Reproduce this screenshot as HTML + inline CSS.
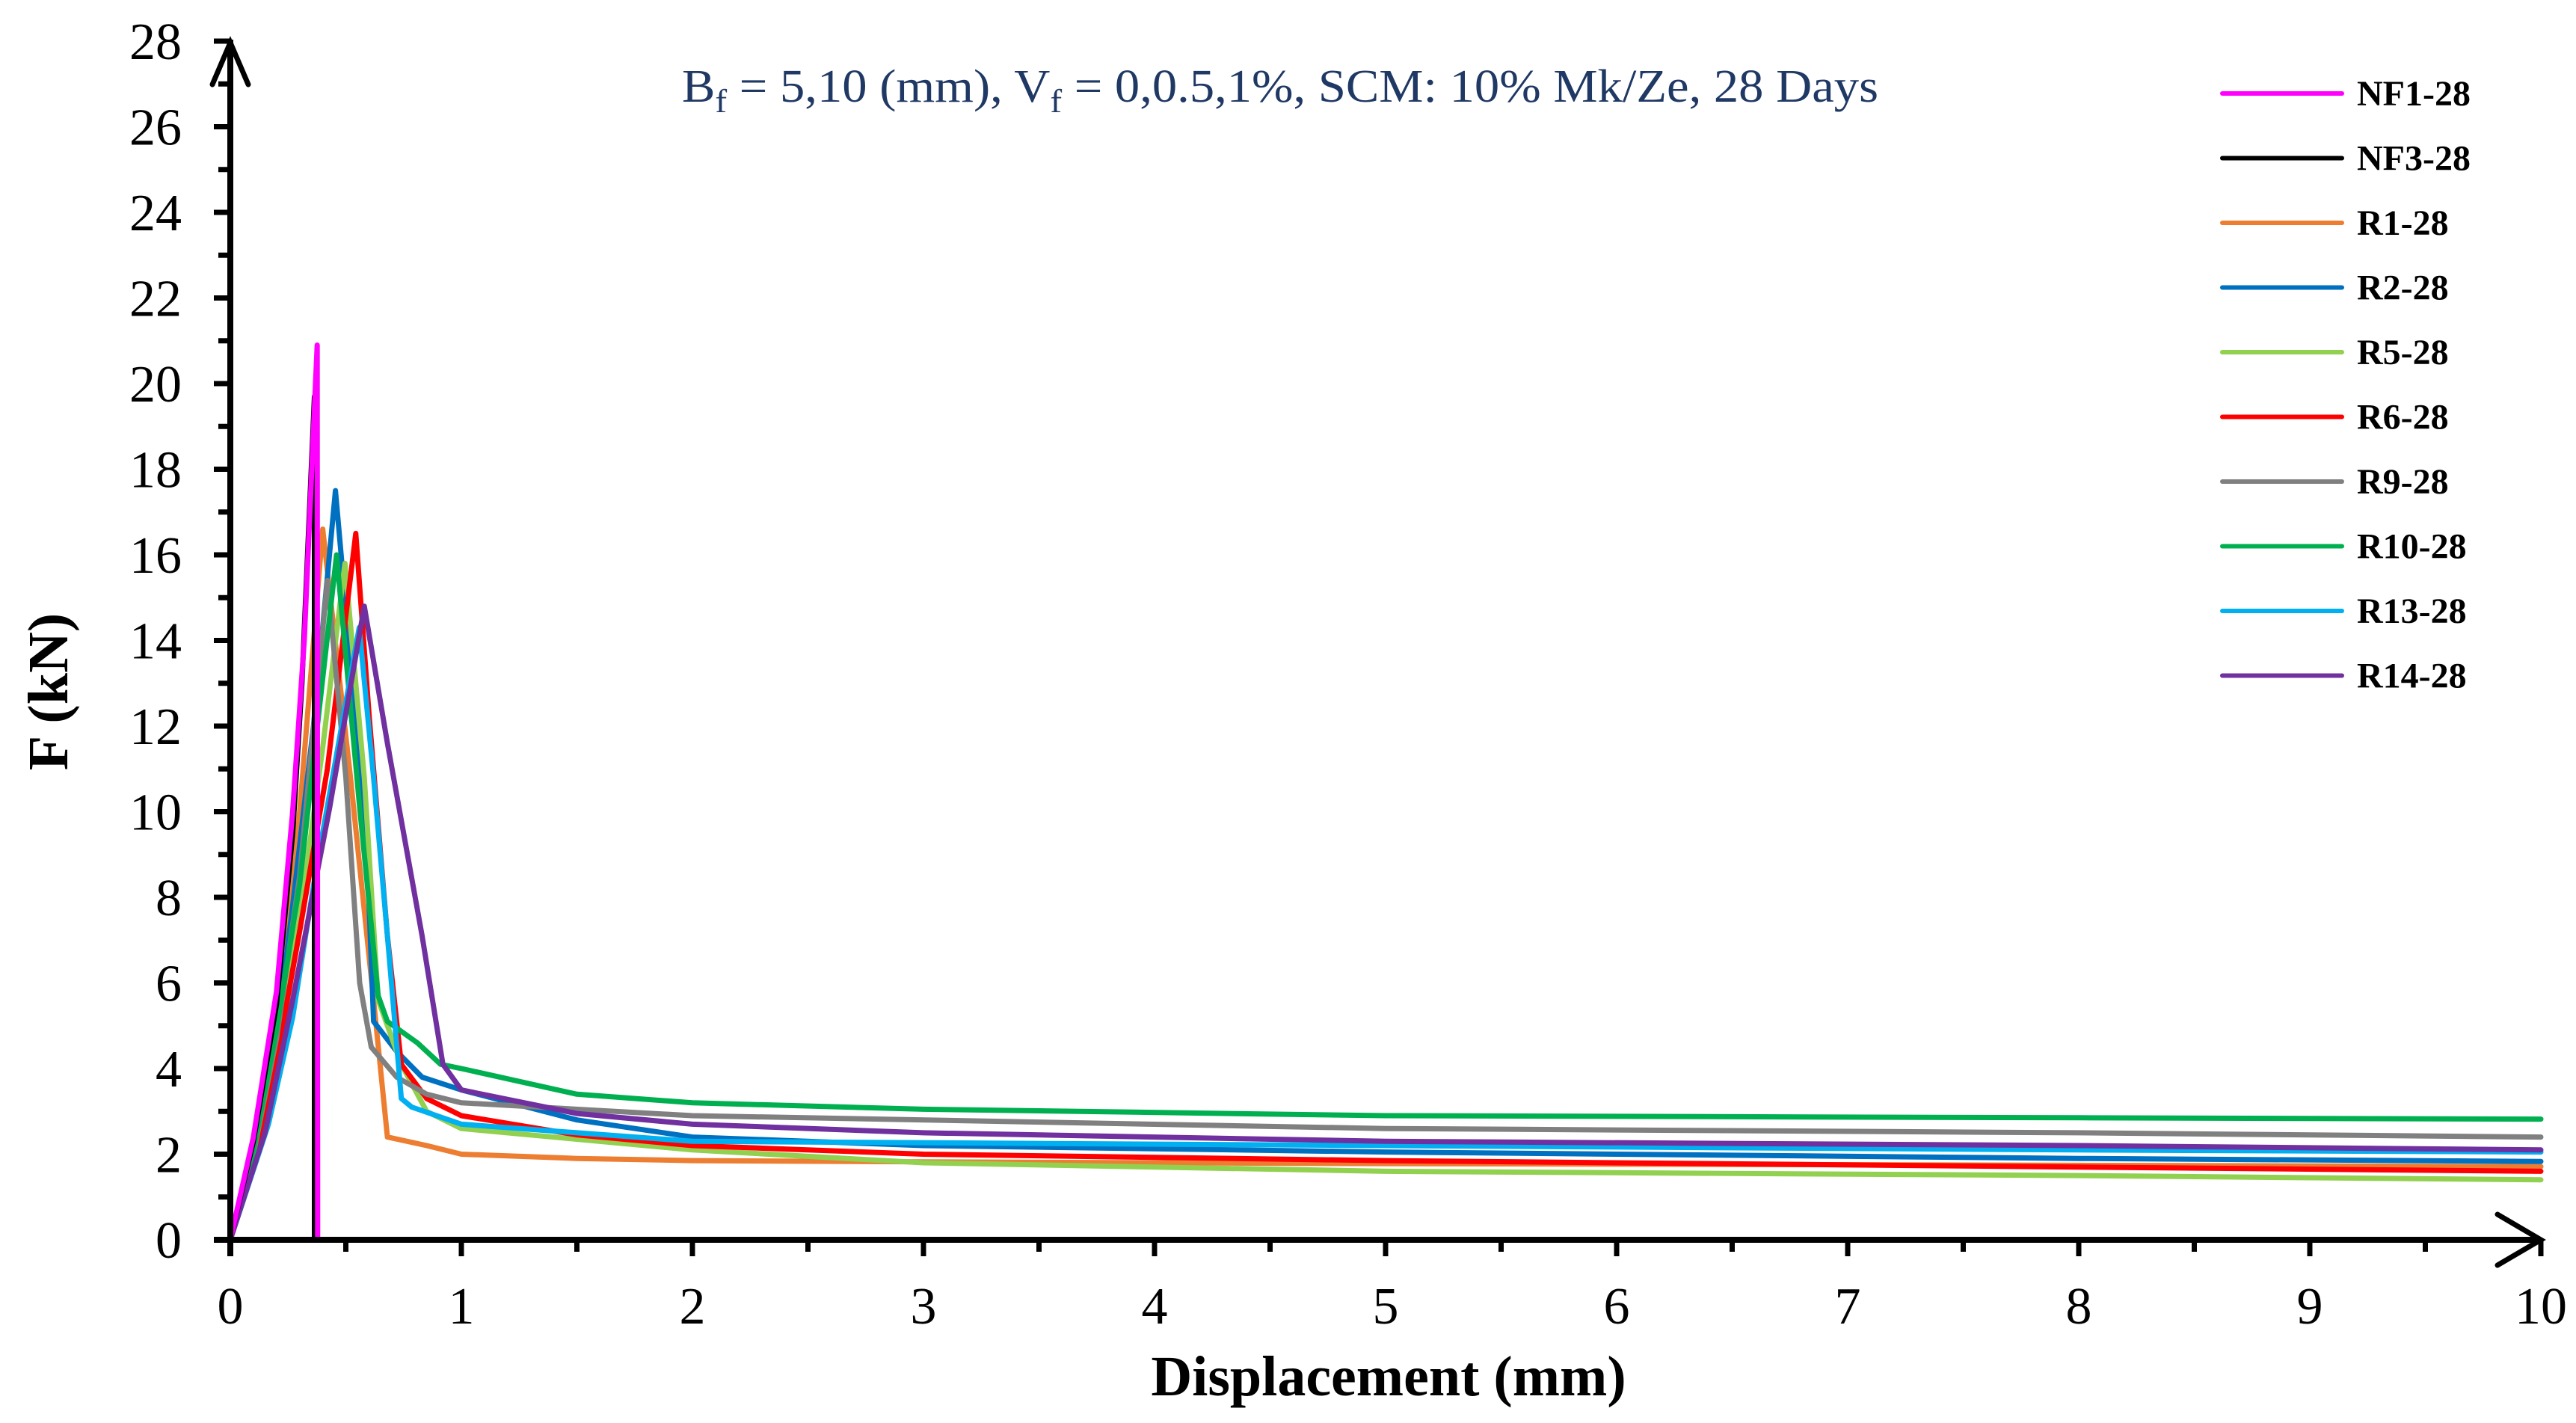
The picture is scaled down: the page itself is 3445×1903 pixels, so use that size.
<!DOCTYPE html>
<html><head><meta charset="utf-8"><style>
html,body{margin:0;padding:0;background:#fff;}
svg{display:block;}
text{font-family:"Liberation Serif","DejaVu Serif",serif;}
</style></head><body>
<svg id="chart" width="3445" height="1903" viewBox="0 0 3445 1903" xmlns="http://www.w3.org/2000/svg">
<g id="series"></g>
<g id="axes"></g>
<text x="912" y="136" font-size="62" fill="#1f3864" textLength="1600" lengthAdjust="spacingAndGlyphs">B<tspan font-size="44" dy="14">f</tspan><tspan dy="-14"> = 5,10 (mm), V</tspan><tspan font-size="44" dy="14">f</tspan><tspan dy="-14"> = 0,0.5,1%, SCM: 10% Mk/Ze, 28 Days</tspan></text>
<text x="1857" y="1866" font-size="76" font-weight="bold" text-anchor="middle">Displacement (mm)</text>
<text transform="translate(90,925) rotate(-90)" font-size="76" font-weight="bold" text-anchor="middle">F (kN)</text>
<g id="legend"></g>
</svg>
<script>
const xTicks = [0,1,2,3,4,5,6,7,8,9,10];
const yTicks = [0,2,4,6,8,10,12,14,16,18,20,22,24,26,28];
const seriesNames = ["NF1-28","NF3-28","R1-28","R2-28","R5-28","R6-28","R9-28","R10-28","R13-28","R14-28"];
const seriesColors = ["#ff00ff","#000000","#ed7d31","#0070c0","#92d050","#ff0000","#808080","#00b050","#00b0f0","#7030a0"];
const xNF1 = [0,0.1,0.2,0.27,0.32,0.376,0.378];
const yNF1 = [0,2.4,5.8,10,14,20.9,0];
const xNF3 = [0,0.1,0.2,0.27,0.31,0.364,0.364];
const yNF3 = [0,2.3,5.5,9.5,13,19.7,0];
const xR1 = [0,0.1,0.2,0.3,0.4,0.52,0.62,0.68,0.85,1.0,1.5,2,3,5,8,10];
const yR1 = [0,2.2,5.2,10,16.6,10.8,5.6,2.4,2.2,2.0,1.9,1.85,1.82,1.78,1.74,1.71];
const xR2 = [0,0.1,0.2,0.27,0.36,0.455,0.59,0.62,0.72,0.83,1.0,1.5,2,3,5,8,10];
const yR2 = [0,2.0,4.8,7.8,12,17.5,9.3,5.1,4.4,3.8,3.5,2.8,2.4,2.2,2.05,1.9,1.83];
const xR5 = [0,0.1,0.2,0.3,0.4,0.496,0.58,0.64,0.74,0.85,1.0,1.5,2,3,5,8,10];
const yR5 = [0,1.9,4.5,7.5,11.5,15.8,10.8,5.6,4.1,3.0,2.6,2.35,2.1,1.8,1.6,1.5,1.4];
const xR6 = [0,0.1,0.2,0.3,0.42,0.543,0.6,0.68,0.74,0.85,1.0,1.5,2,3,5,8,10];
const yR6 = [0,1.8,4.2,7.2,11.0,16.5,12.3,7.1,4.1,3.3,2.9,2.45,2.2,2.0,1.85,1.7,1.6];
const xR9 = [0,0.1,0.2,0.3,0.42,0.5,0.56,0.61,0.72,0.85,1.0,2,5,8,10];
const yR9 = [0,2.0,4.7,8.5,15.4,10.8,6.0,4.5,3.8,3.4,3.2,2.9,2.6,2.5,2.4];
const xR10 = [0,0.1,0.2,0.3,0.46,0.56,0.64,0.68,0.81,0.91,1.0,1.5,2,3,5,8,10];
const yR10 = [0,2.1,4.9,8.3,16.0,10.1,5.7,5.1,4.6,4.1,4.0,3.4,3.2,3.05,2.9,2.85,2.82];
const xR13 = [0,0.165,0.27,0.37,0.558,0.62,0.68,0.74,0.785,1.0,2,5,8,10];
const yR13 = [0,2.7,5.2,8.6,14.3,10.8,7.1,3.3,3.1,2.7,2.3,2.2,2.1,2.05];
const xR14 = [0,0.15,0.27,0.43,0.58,0.68,0.83,0.92,1.0,1.5,2,3,5,8,10];
const yR14 = [0,2.5,5.6,10.1,14.8,11.6,7.1,4.1,3.5,2.95,2.7,2.5,2.3,2.2,2.1];
const seriesX = [xNF1,xNF3,xR1,xR2,xR5,xR6,xR9,xR10,xR13,xR14];
const seriesY = [yNF1,yNF3,yR1,yR2,yR5,yR6,yR9,yR10,yR13,yR14];

const NS = "http://www.w3.org/2000/svg";
const X0 = 308, X1 = 3398, Y0 = 1658, Y1 = 55;
function sx(v){ return X0 + (X1 - X0) * v / 10; }
function sy(v){ return Y0 - (Y0 - Y1) * v / 28; }
function mk(tag, attrs, parent){
  const el = document.createElementNS(NS, tag);
  for (const k in attrs) el.setAttribute(k, attrs[k]);
  parent.appendChild(el);
  return el;
}
const sg = document.getElementById('series');
const drawOrder = [2,3,4,5,6,7,8,9,1,0];
drawOrder.forEach(function(i){
  const pts = seriesX[i].map(function(x, j){ return sx(x).toFixed(1) + "," + sy(seriesY[i][j]).toFixed(1); }).join(" ");
  const p = mk('polyline', {points: pts, fill: 'none', stroke: seriesColors[i], 'stroke-width': 7, 'stroke-linejoin': 'round', 'stroke-linecap': 'round'}, sg);
  
  
});

const ax = document.getElementById('axes');
const xa = mk('line', {x1: X0 - 22, y1: Y0, x2: X1, y2: Y0, stroke: '#000', 'stroke-width': 8}, ax);


const ya = mk('line', {x1: X0, y1: Y0 + 22, x2: X0, y2: Y1 - 2, stroke: '#000', 'stroke-width': 8}, ax);


const xarr = mk('polyline', {points: (X1-58)+","+(Y0-34)+" "+X1+","+Y0+" "+(X1-58)+","+(Y0+34), fill: 'none', stroke: '#000', 'stroke-width': 7, 'stroke-linecap': 'round'}, ax);


const yarr = mk('polyline', {points: (X0-24)+","+(Y1+58)+" "+X0+","+(Y1+2)+" "+(X0+24)+","+(Y1+58), fill: 'none', stroke: '#000', 'stroke-width': 7, 'stroke-linecap': 'round'}, ax);



xTicks.forEach(function(v){
  const t = mk('line', {x1: sx(v), y1: Y0, x2: sx(v), y2: Y0 + 22, stroke: '#000', 'stroke-width': 7}, ax);
  
  
  if (v < 10) {
    const m = mk('line', {x1: sx(v + 0.5), y1: Y0, x2: sx(v + 0.5), y2: Y0 + 16, stroke: '#000', 'stroke-width': 7}, ax);
    
    
  }
  const l = mk('text', {x: sx(v), y: Y0 + 112, 'font-size': 70, 'text-anchor': 'middle'}, ax);
  l.textContent = String(v);
  
  
});
yTicks.forEach(function(v){
  const t = mk('line', {x1: X0 - 22, y1: sy(v), x2: X0, y2: sy(v), stroke: '#000', 'stroke-width': 7}, ax);
  
  
  if (v < 28) {
    const m = mk('line', {x1: X0 - 16, y1: sy(v + 1), x2: X0, y2: sy(v + 1), stroke: '#000', 'stroke-width': 7}, ax);
    
    
  }
  const l = mk('text', {x: 243, y: sy(v) + 24, 'font-size': 70, 'text-anchor': 'end'}, ax);
  l.textContent = String(v);
  
  
});

const lg = document.getElementById('legend');
seriesNames.forEach(function(n, i){
  const y = 125 + i * 86.5;
  const ln = mk('line', {x1: 2972, y1: y, x2: 3132, y2: y, stroke: seriesColors[i], 'stroke-width': 6, 'stroke-linecap': 'round'}, lg);
  
  
  const tx = mk('text', {x: 3152, y: y + 16, 'font-size': 48, 'font-weight': 'bold'}, lg);
  tx.textContent = n;
  
  
});
</script>
</body></html>
